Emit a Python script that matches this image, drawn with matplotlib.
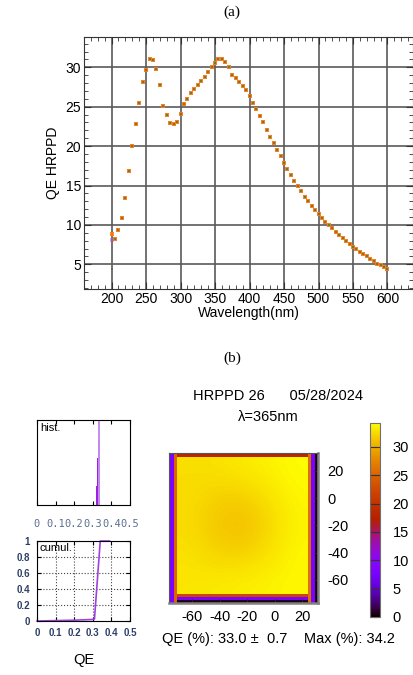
import matplotlib
matplotlib.use("Agg")
import matplotlib.pyplot as plt
import numpy as np
from matplotlib.ticker import MultipleLocator

plt.rcParams['font.family'] = ['Liberation Sans', 'DejaVu Sans']
plt.rcParams['axes.unicode_minus'] = False

# (a) QE vs wavelength, three overlapping scans
wavelength = list(range(200, 605, 5))
qe_first = {'orange': 8.8, 'purple': 8.1, 'green': 4.4}   # they only differ at 200 nm
qe_rest = [8.2, 9.3, 10.9, 13.4, 16.9, 20.05, 22.8, 25.5, 28.1, 29.7,
           31.1, 30.9, 29.8, 27.7, 25.1, 24.0, 22.9, 22.8, 23.1, 24.1,
           25.4, 26.0, 26.7, 27.25, 27.8, 28.3, 28.8, 29.4, 30.0, 30.55,
           31.1, 31.1, 30.7, 30.1, 29.0, 28.7, 28.2, 27.6, 27.1, 26.3,
           25.5, 24.7, 23.8, 23.0, 22.1, 21.2, 20.35, 19.5, 18.7, 17.8,
           17.05, 16.3, 15.6, 15.0, 14.35, 13.6, 13.0, 12.45, 11.9, 11.4,
           10.9, 10.4, 10.0, 9.6, 9.15, 8.7, 8.3, 7.9, 7.6, 7.2,
           6.9, 6.55, 6.25, 6.0, 5.65, 5.4, 5.1, 4.9, 4.6, 4.4]

# (b) QE map at 365 nm (mm), interior read on a coarse grid, top row first
qe_interior = [[32.6, 32.8, 33.2, 33.6, 34.0],
               [32.6, 31.9, 31.8, 32.8, 33.8],
               [32.5, 31.4, 30.8, 32.3, 33.6],
               [32.8, 32.1, 31.9, 32.8, 33.8],
               [33.0, 33.2, 33.4, 33.6, 33.8]]
interior_box = (-71.5, 24.0, -70.5, 30.0)
map_box = (-77.0, 31.5, -77.0, 33.0)
# edge bands of the sensor: boundaries (mm) and QE
left_edges, left_qe = [-77.0, -73.5, -71.5], [8.0, 25.0]
right_edges, right_qe = [24.0, 26.5, 29.0, 31.5], [26.0, 8.0, 0.5]
top_edges, top_qe = [30.0, 33.0], [18.0]
bottom_edges, bottom_qe = [-77.0, -74.5, -72.5, -70.5], [0.5, 8.0, 22.0]
qe_mean, qe_std, qe_max = 33.0, 0.7, 34.2

# histogram / cumulative of pixel QE
hist_left = [0.315, 0.3225, 0.3305]
hist_height = [0.22, 0.55, 0.76]
hist_peak = 0.3315
cum_qe = [0.0, 0.1, 0.2, 0.305, 0.309, 0.340, 0.39]
cum_frac = [0.0, 0.005, 0.01, 0.02, 0.025, 1.0, 1.0]

W, H = 414, 675
fig = plt.figure(figsize=(W / 100, H / 100), dpi=100)


def box(l, t, r, b):
    return [l / W, 1 - b / H, (r - l) / W, (b - t) / H]


fig.text(232 / W, 1 - 12 / H, '(a)', ha='center', va='center',
         family='Liberation Serif', fontsize=11)
fig.text(232 / W, 1 - 358 / H, '(b)', ha='center', va='center',
         family='Liberation Serif', fontsize=11)

# ---- (a)
ax = fig.add_axes(box(84, 37, 413, 289))
ax.grid(True, which='major', color='#5a5a5a', lw=1.2)
ax.set_axisbelow(True)
ax.plot(wavelength, [qe_first['purple']] + qe_rest, 's', color='#b050e0', ms=3.4, mew=0, alpha=0.5)
ax.plot(wavelength, [qe_first['orange']] + qe_rest, 's', color='#ff7a10', ms=3.0, mew=0, alpha=0.9)
ax.plot(wavelength, [qe_first['green']] + qe_rest, 's', color='#4d7a1e', ms=1.9, mew=0, alpha=0.75)
ax.set_xlim(160, 637)
ax.set_ylim(1.87, 33.85)
ax.xaxis.set_major_locator(MultipleLocator(50))
ax.xaxis.set_minor_locator(MultipleLocator(10))
ax.yaxis.set_major_locator(MultipleLocator(5))
ax.yaxis.set_minor_locator(MultipleLocator(1))
ax.set_xticks([200, 250, 300, 350, 400, 450, 500, 550, 600])
ax.tick_params(which='both', direction='in', top=True, right=True, color='#333333')
ax.tick_params(which='major', length=5, labelsize=10, pad=2)
ax.tick_params(which='minor', length=3)
for s in ax.spines.values():
    s.set_color('#333333')
ax.set_xlabel('Wavelength(nm)', fontsize=10, labelpad=0)
ax.set_ylabel('QE HRPPD', fontsize=10, labelpad=4)

# ---- (b) map
cmap = plt.get_cmap('gnuplot')
vmin, vmax = 0, qe_max
am = fig.add_axes(box(169, 453, 318, 603))
am.imshow(qe_interior, extent=interior_box, cmap=cmap, vmin=vmin, vmax=vmax,
          interpolation='bicubic', origin='upper', aspect='auto')
am.pcolormesh(map_box[:2], top_edges, [top_qe], cmap=cmap, vmin=vmin, vmax=vmax)
am.pcolormesh(map_box[:2], bottom_edges, [[v] for v in bottom_qe], cmap=cmap, vmin=vmin, vmax=vmax)
am.pcolormesh(left_edges, map_box[2:], [left_qe], cmap=cmap, vmin=vmin, vmax=vmax)
mesh = am.pcolormesh(right_edges, map_box[2:], [right_qe], cmap=cmap, vmin=vmin, vmax=vmax)
am.set_xlim(map_box[0], map_box[1])
am.set_ylim(map_box[2], map_box[3])
am.set_xticks([-60, -40, -20, 0, 20])
am.set_yticks([20, 0, -20, -40, -60])
am.yaxis.tick_right()
am.tick_params(direction='in', length=3, labelsize=10.5, color='#222222')
am.tick_params(axis='x', pad=5)
am.tick_params(axis='y', pad=7)
for name, s in am.spines.items():
    s.set_color('#808080' if name in ('right', 'bottom') else '#555555')
    s.set_linewidth(1.8 if name in ('right', 'bottom') else 0.8)

fig.text(278 / W, 1 - 396 / H, 'HRPPD 26      05/28/2024', ha='center', va='center', fontsize=10.5)
fig.text(268 / W, 1 - 417 / H, 'λ=365nm', ha='center', va='center', fontsize=10.5)
fig.text(278 / W, 1 - 639 / H, f'QE (%): {qe_mean:.1f} ±  {qe_std:.1f}    Max (%): {qe_max:.1f}',
         ha='center', va='center', fontsize=10.5)

cax = fig.add_axes(box(370, 423, 380, 617))
cb = fig.colorbar(mesh, cax=cax, ticks=[0, 5, 10, 15, 20, 25, 30])
cb.outline.set_edgecolor('#707070')
cax.tick_params(direction='in', length=4, left=True, right=True, labelsize=10.5,
                pad=9, color='#333333')

# ---- histogram
ah = fig.add_axes(box(37, 420, 130, 505))
ah.bar(hist_left, hist_height, width=0.008, align='edge', color='#9a22dd', lw=0)
ah.axvline(hist_peak, color='#c58af0', lw=1.4)
ah.set_xlim(0, 0.5)
ah.set_ylim(0, 1)
ah.set_xticks([0, 0.1, 0.2, 0.3, 0.4, 0.5])
ah.set_xticklabels(['0', '0.1', '0.2', '0.3', '0.4', '0.5'], family='DejaVu Sans Mono',
                   fontsize=7.5, color='#5c6f8f')
ah.set_yticks([])
ah.tick_params(axis='x', direction='in', top=True, length=3, pad=10)
ah.text(0.03, 0.97, 'hist.', transform=ah.transAxes, ha='left', va='top', fontsize=8)

# ---- cumulative
ac = fig.add_axes(box(37, 541, 130, 621))
ac.plot(cum_qe, cum_frac, color='#a040e0', lw=1.2, clip_on=False)
ac.set_xlim(0, 0.5)
ac.set_ylim(0, 1)
ac.set_xticks([0, 0.1, 0.2, 0.3, 0.4, 0.5])
ac.set_xticklabels(['0', '0.1', '0.2', '0.3', '0.4', '0.5'])
ac.set_yticks([0, 0.2, 0.4, 0.6, 0.8, 1])
ac.set_yticklabels(['0', '0.2', '0.4', '0.6', '0.8', '1'])
ac.grid(True, ls=':', color='#444444', lw=0.8)
ac.tick_params(direction='in', top=True, right=True, length=3, labelsize=7,
               labelcolor='#2c3f66', pad=5)
for lab in ac.get_xticklabels() + ac.get_yticklabels():
    lab.set_fontweight('bold')
ac.text(0.03, 0.97, 'cumul.', transform=ac.transAxes, ha='left', va='top', fontsize=8)
fig.text(84 / W, 1 - 660 / H, 'QE', ha='center', va='center', fontsize=10.5)

fig.savefig('out.png', dpi=100)
